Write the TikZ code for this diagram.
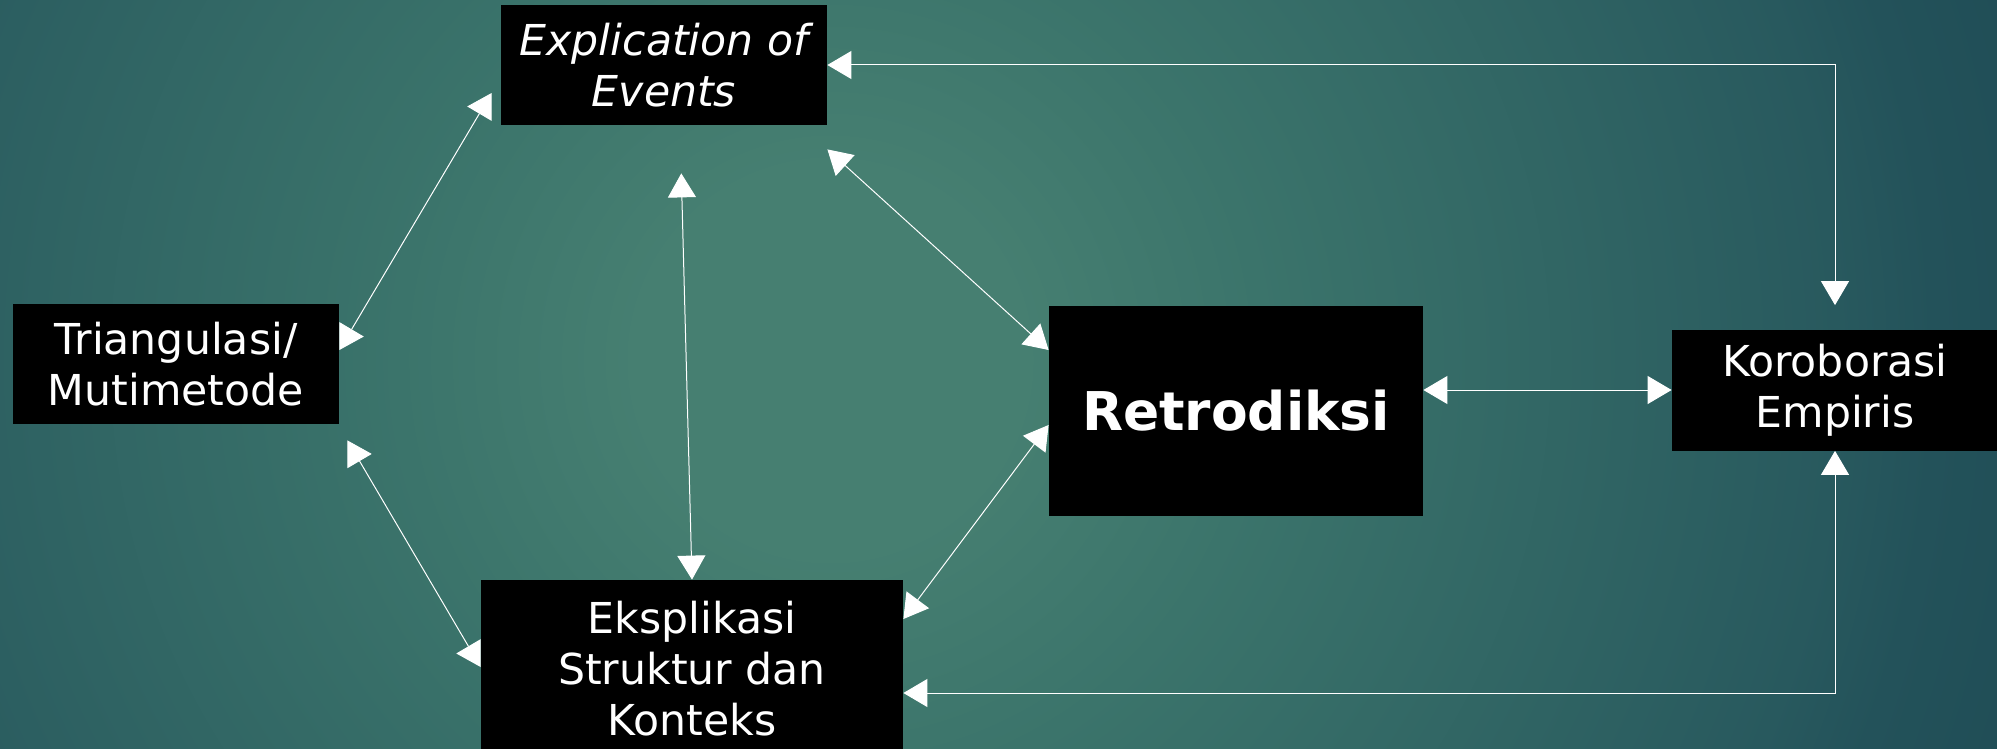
\documentclass[tikz,border=0pt]{standalone}
\usepackage{fontspec}
\setmainfont{DejaVu Sans}
\usepackage{xcolor}
\usetikzlibrary{arrows.meta}
\definecolor{glowA}{HTML}{467F71}
\definecolor{glowB}{HTML}{3B746B}
\definecolor{glowC}{HTML}{28595E}
\definecolor{glowD}{HTML}{23525A}
\definecolor{glowE}{HTML}{1C4751}
\definecolor{glowF}{HTML}{1B4450}
\newcommand{\boxW}{163pt}
\newcommand{\boxH}{60pt}
\newcommand{\tipLen}{12pt}
\newcommand{\cardfont}{\fontsize{21.3pt}{25.5pt}\selectfont}
\pgfdeclareradialshading{slideglow}{\pgfpoint{0bp}{0bp}}{color(0bp)=(glowA); color(4bp)=(glowA); color(9bp)=(glowB); color(21bp)=(glowC); color(23bp)=(glowD); color(30bp)=(glowE); color(45bp)=(glowF); color(72bp)=(glowF)}
\tikzset{
	card/.style={fill=black, text=white, inner sep=0pt, align=center, minimum width=\boxW, minimum height=\boxH, font=\cardfont},
	link/.style={draw=white, line width=0.5pt, >={Triangle[length=\tipLen, width=14pt]}, <->}
}

\begin{document}
\begin{tikzpicture}[x=0.5pt, y=-0.5pt]
	\useasboundingbox (0,0) rectangle (1997,749);
	\clip (0,0) rectangle (1997,749);
	% glow centred near (830,360)
	\shade[shading=slideglow] (-370,-840) rectangle (2030,1560);
	% boxes
	\node[card, font=\cardfont\itshape] (expl) at (664,65) {Explication of\\Events};
	\node[card] (tri) at (176,364) {Triangulasi/\\Mutimetode};
	\node[card, minimum width=187pt, minimum height=105pt, font=\fontsize{26.7pt}{31pt}\selectfont\bfseries] (retro) at (1236,411) {Retrodiksi};
	\node[card, minimum height=60.5pt] (koro) at (1835,390) {Koroborasi\\Empiris};
	\node[card, minimum width=211pt, minimum height=89pt] (eks) at (692,669) {Eksplikasi\\Struktur dan\\Konteks};
	% links
	\draw[link, shorten >=12pt] (expl.east) -| (koro.north);
	\draw[link] ([yshift=-12pt]eks.east) -| (koro.south);
	\draw[link] (retro.east |- koro.west) -- (koro.west);
	\draw[link, shorten <=24pt] ([xshift=8pt]expl.south) -- (eks.north);
	\draw[link] ([yshift=-12pt]expl.south east) -- ([yshift=30.5pt]retro.west);
	\draw[link] ([yshift=-7pt]retro.west) -- ([yshift=25pt]eks.east);
	\draw[link] ([yshift=7pt]tri.east) -- ([xshift=-4.5pt,yshift=-14pt]expl.west);
	\draw[link] ([xshift=4pt,yshift=-8pt]tri.south east) -- ([yshift=1pt]eks.west);
\end{tikzpicture}
\end{document}
